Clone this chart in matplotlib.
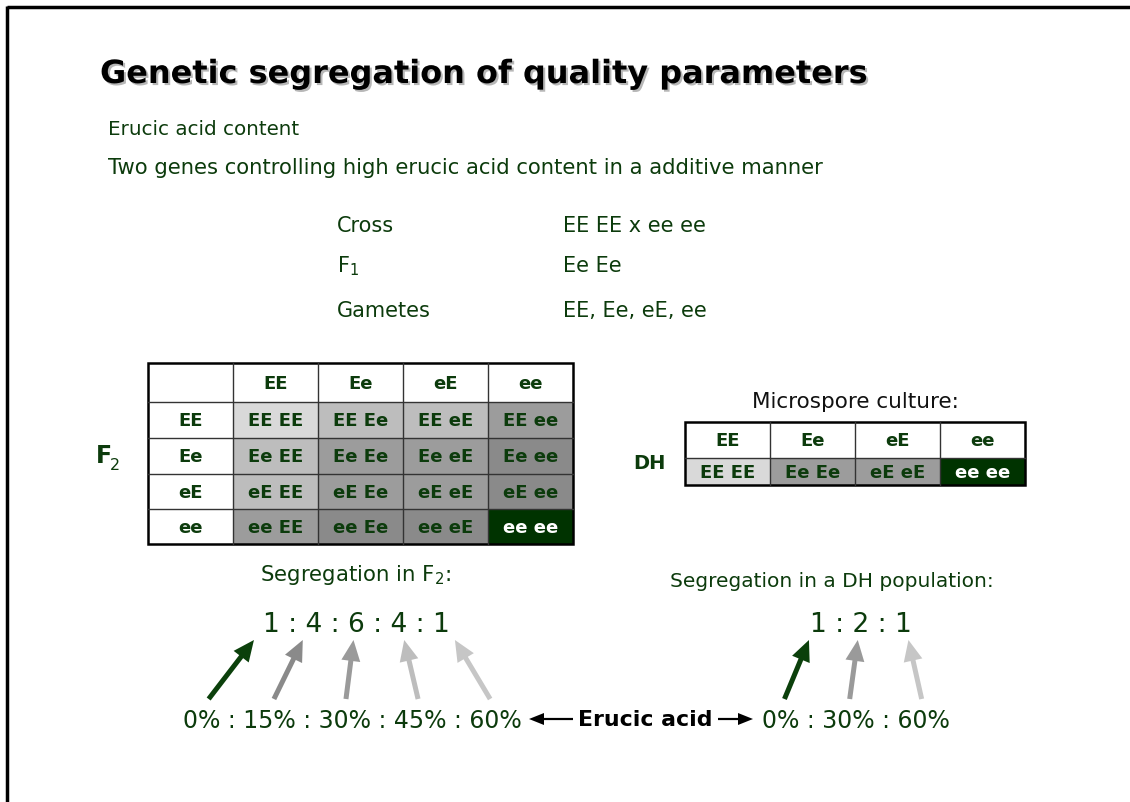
import matplotlib.pyplot as plt
import matplotlib.patheffects as pe
from matplotlib.patches import Rectangle, FancyArrow
from matplotlib.font_manager import FontProperties

plt.rcParams['font.family'] = 'DejaVu Sans'
plt.rcParams['mathtext.default'] = 'regular'

# slide content
title = 'Genetic segregation of quality parameters'
subtitle = 'Erucic acid content'
intro = 'Two genes controlling high erucic acid content in a additive manner'
cross_labels = ['Cross', 'F$_1$', 'Gametes']
cross_values = ['EE EE x ee ee', 'Ee Ee', 'EE, Ee, eE, ee']
gametes = ['EE', 'Ee', 'eE', 'ee']
f2_cells = [['EE EE', 'EE Ee', 'EE eE', 'EE ee'],
            ['Ee EE', 'Ee Ee', 'Ee eE', 'Ee ee'],
            ['eE EE', 'eE Ee', 'eE eE', 'eE ee'],
            ['ee EE', 'ee Ee', 'ee eE', 'ee ee']]
f2_e_count = [[0, 1, 1, 2],
              [1, 2, 2, 3],
              [1, 2, 2, 3],
              [2, 3, 3, 4]]
dh_cells = ['EE EE', 'Ee Ee', 'eE eE', 'ee ee']
dh_e_count = [0, 2, 2, 4]
f2_ratio = [1, 4, 6, 4, 1]
f2_erucic = [0, 15, 30, 45, 60]
dh_ratio = [1, 2, 1]
dh_erucic = [0, 30, 60]

GREEN = '#0c3b0c'
DARK = '#003300'
shade = {0: '#d9d9d9', 1: '#bdbdbd', 2: '#9c9c9c', 3: '#8a8a8a', 4: DARK}
arrow_col = {0: '#0b400b', 15: '#8a8a8a', 30: '#9a9a9a', 45: '#bdbdbd', 60: '#c6c6c6'}

fig = plt.figure(figsize=(11.3, 8.02), dpi=100)
ax = fig.add_axes([0, 0, 1, 1])
ax.set_xlim(0, 1130)
ax.set_ylim(802, 0)
ax.axis('off')
renderer = fig.canvas.get_renderer()


def text_w(s, size, weight='normal'):
    prop = FontProperties(family='DejaVu Sans', size=size, weight=weight)
    w, h, d = renderer.get_text_width_height_descent(s, prop, ismath=False)
    return w


def token_centers(tokens, sep, x0, size):
    s = ''
    centers = []
    for i, t in enumerate(tokens):
        s = s + (sep if i else '') + t
        centers.append(x0 + text_w(s, size) - text_w(t, size) / 2)
    return centers, sep.join(tokens)


# border
ax.plot([7, 1130], [7, 7], color='black', lw=2.5, solid_capstyle='butt')
ax.plot([7, 7], [6, 802], color='black', lw=2.5, solid_capstyle='butt')

# title and intro
ax.text(100, 83, title, fontsize=23, fontweight='bold', color='black',
        path_effects=[pe.withSimplePatchShadow(offset=(1.5, -1.5), shadow_rgbFace='#888888', alpha=0.6)])
ax.text(108, 135, subtitle, fontsize=14.3, color=GREEN)
ax.text(108, 174, intro, fontsize=15.2, color=GREEN)
for i, (lab, val) in enumerate(zip(cross_labels, cross_values)):
    y = [232, 272, 317][i]
    ax.text(337, y, lab, fontsize=15, color=GREEN)
    ax.text(563, y, val, fontsize=15, color=GREEN)

# F2 table
fx = [148, 233, 318, 403, 488, 573]
fy = [363, 402, 438, 474, 509, 544]
for r in range(5):
    for c in range(5):
        x0, y0 = fx[c], fy[r]
        w, h = fx[c + 1] - x0, fy[r + 1] - y0
        if r == 0 and c == 0:
            continue
        if r == 0 or c == 0:
            face, txt, tcol = 'white', gametes[c - 1] if r == 0 else gametes[r - 1], GREEN
        else:
            n = f2_e_count[r - 1][c - 1]
            face, txt = shade[n], f2_cells[r - 1][c - 1]
            tcol = 'white' if n == 4 else GREEN
        ax.add_patch(Rectangle((x0, y0), w, h, facecolor=face, edgecolor='none'))
        ax.text(x0 + w / 2, y0 + h / 2 + 6.5, txt, fontsize=13, fontweight='bold',
                color=tcol, ha='center', va='baseline')
for x in fx[1:-1]:
    ax.plot([x, x], [fy[0], fy[-1]], color='#333333', lw=1)
for y in fy[1:-1]:
    ax.plot([fx[0], fx[-1]], [y, y], color='#333333', lw=1)
ax.add_patch(Rectangle((fx[0], fy[0]), fx[-1] - fx[0], fy[-1] - fy[0],
                       facecolor='none', edgecolor='black', lw=1.8))
ax.text(96, 463, 'F', fontsize=17, fontweight='bold', color=GREEN)
ax.text(110, 470, '2', fontsize=11.5, color=GREEN)

# DH table
ax.text(855, 408, 'Microspore culture:', fontsize=15.5, color='#111111', ha='center')
dx = [685, 770, 855, 940, 1025]
dy = [422, 458, 485]
for c in range(4):
    w = dx[c + 1] - dx[c]
    ax.text(dx[c] + w / 2, (dy[0] + dy[1]) / 2 + 6.5, gametes[c], fontsize=13,
            fontweight='bold', color=GREEN, ha='center', va='baseline')
    n = dh_e_count[c]
    ax.add_patch(Rectangle((dx[c], dy[1]), w, dy[2] - dy[1], facecolor=shade[n], edgecolor='none'))
    ax.text(dx[c] + w / 2, (dy[1] + dy[2]) / 2 + 6.5, dh_cells[c], fontsize=13,
            fontweight='bold', color='white' if n == 4 else GREEN, ha='center', va='baseline')
for x in dx[1:-1]:
    ax.plot([x, x], [dy[0], dy[-1]], color='#333333', lw=1)
ax.plot([dx[0], dx[-1]], [dy[1], dy[1]], color='#333333', lw=1)
ax.add_patch(Rectangle((dx[0], dy[0]), dx[-1] - dx[0], dy[-1] - dy[0],
                       facecolor='none', edgecolor='black', lw=1.8))
ax.text(633, 469, 'DH', fontsize=14, fontweight='bold', color=GREEN)

# segregation ratios
ax.text(356, 581, 'Segregation in F$_2$:', fontsize=15.3, color=GREEN, ha='center')
ax.text(832, 587, 'Segregation in a DH population:', fontsize=14.5, color=GREEN, ha='center')


def ratio_block(ratio, erucic, rx, px):
    rc, rs = token_centers([str(v) for v in ratio], ' : ', rx, 19)
    pc, ps = token_centers(['%d%%' % v for v in erucic], ' : ', px, 17)
    ax.text(rx, 632, rs, fontsize=19, color=GREEN)
    ax.text(px, 728, ps, fontsize=17, color=GREEN)
    for r, p, v in zip(rc, pc, erucic):
        tip_x = r + 0.25 * (p - r)
        tail_x = p + 0.1 * (r - p)
        ax.add_patch(FancyArrow(tail_x, 699, tip_x - tail_x, 640 - 699, width=5, head_width=19,
                                head_length=21, length_includes_head=True,
                                color=arrow_col[v], lw=0))


ratio_block(f2_ratio, f2_erucic, 263, 183)
ratio_block(dh_ratio, dh_erucic, 810, 762)

ax.add_patch(FancyArrow(573, 719, -44, 0, width=2.2, head_width=12, head_length=15,
                        length_includes_head=True, color='black', lw=0))
ax.text(578, 726, 'Erucic acid', fontsize=15.8, fontweight='bold', color='black')
ax.add_patch(FancyArrow(718, 719, 35, 0, width=2.2, head_width=12, head_length=15,
                        length_includes_head=True, color='black', lw=0))

fig.savefig('out.png', dpi=100)
